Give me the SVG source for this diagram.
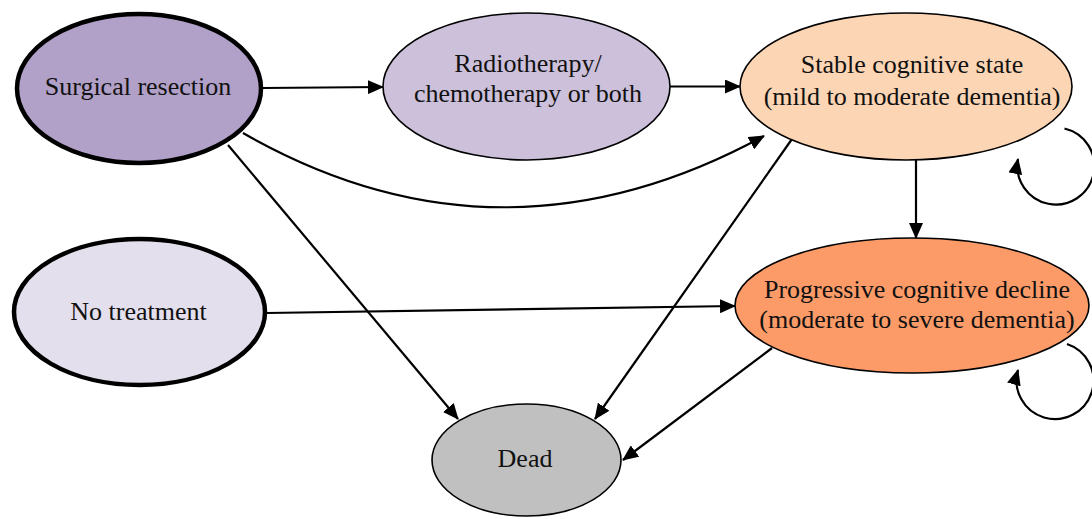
<svg xmlns="http://www.w3.org/2000/svg" width="1092" height="519" viewBox="0 0 1092 519">
  <style>
    .node { stroke: #000; stroke-width: 1.6; }
    .bold { stroke-width: 4.5; }
    .label { font-family: "Liberation Serif", "Times New Roman", serif; font-size: 26px; fill: #111; text-anchor: middle; }
    .edge { fill: none; stroke: #000; stroke-width: 2.2; marker-end: url(#arrow); }
  </style>
  <defs>
    <marker id="arrow" viewBox="0 0 16 14" refX="15" refY="7" markerWidth="16" markerHeight="14" markerUnits="userSpaceOnUse" orient="auto">
      <path d="M0,0 L16,7 L0,14 z" fill="#000"/>
    </marker>
  </defs>

  <rect width="1092" height="519" fill="#fff"/>

  <!-- connectors -->
  <g id="connectors">
    <path class="edge" d="M263,88 L383,87"/>
    <path class="edge" d="M670,86.5 L740,86.5"/>
    <path class="edge" d="M243,133 Q500,280 764,136"/>
    <path class="edge" d="M228,145 L458,419"/>
    <path class="edge" d="M792,139 L595,419"/>
    <path class="edge" d="M772,348 L623,460"/>
    <path class="edge" d="M267,313 L735,306"/>
    <path class="edge" d="M916,160 L916,238"/>
    <!-- self loops -->
    <path class="edge" d="M1064.5,128.5 A38.5 38.5 0 1 1 1018,159"/>
    <path class="edge" d="M1067,344 A38.5 38.5 0 1 1 1018,370"/>
  </g>

  <g id="surgical">
    <ellipse class="node bold" cx="139" cy="88.5" rx="122" ry="74.5" fill="#b1a0c7"/>
    <text class="label" x="138" y="95">Surgical resection</text>
  </g>

  <g id="radio">
    <ellipse class="node" cx="526.5" cy="86.5" rx="143.5" ry="73.5" fill="#ccc0da"/>
    <text class="label" x="528" y="72">Radiotherapy/</text>
    <text class="label" x="528" y="102">chemotherapy or both</text>
  </g>

  <g id="stable">
    <ellipse class="node" cx="906" cy="86.5" rx="166" ry="73.5" fill="#fcd5b4"/>
    <text class="label" x="912" y="73">Stable cognitive state</text>
    <text class="label" x="912" y="105">(mild to moderate dementia)</text>
  </g>

  <g id="notreatment">
    <ellipse class="node bold" cx="139.5" cy="312" rx="125.5" ry="73" fill="#e4dfec"/>
    <text class="label" x="138.5" y="320">No treatment</text>
  </g>

  <g id="progressive">
    <ellipse class="node" cx="912" cy="305.5" rx="177" ry="67.5" fill="#fc9b68"/>
    <text class="label" x="917" y="298">Progressive cognitive decline</text>
    <text class="label" x="917" y="328">(moderate to severe dementia)</text>
  </g>

  <g id="dead">
    <ellipse class="node" cx="526.5" cy="460" rx="94.5" ry="56" fill="#c0c0c0"/>
    <text class="label" x="525" y="467">Dead</text>
  </g>
</svg>
